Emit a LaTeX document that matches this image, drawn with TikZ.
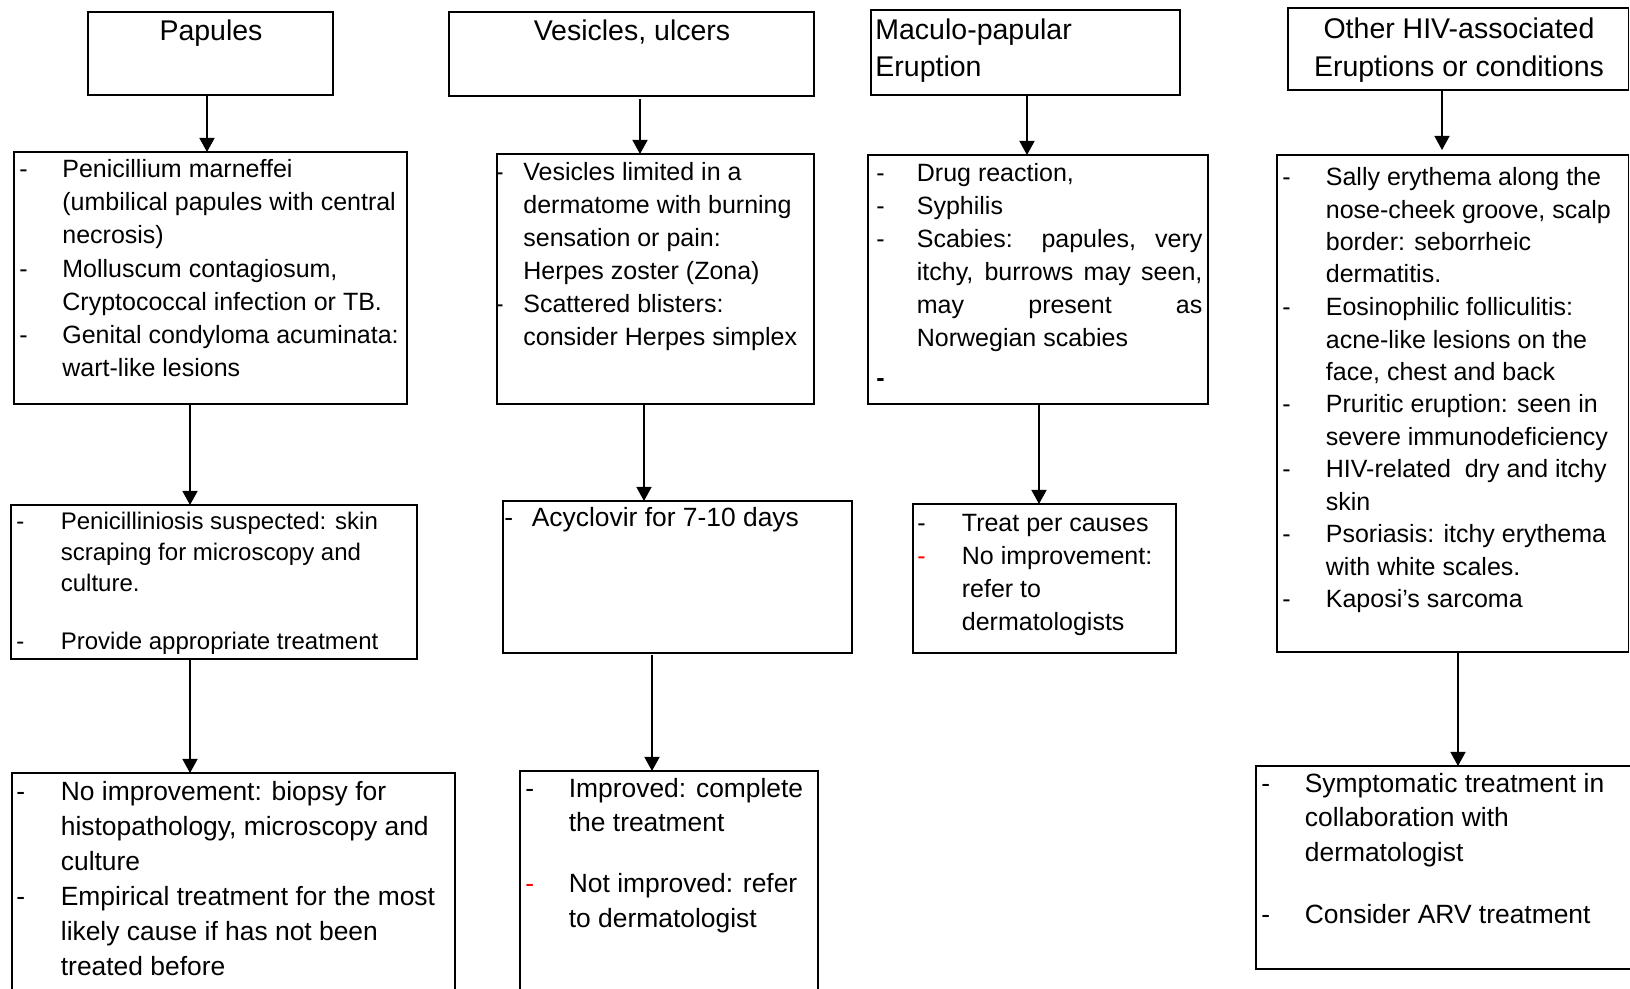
\documentclass[tikz,border=0pt]{standalone}
\usepackage{fontspec}
\setmainfont{Liberation Sans}
\usetikzlibrary{arrows.meta,fit}

% hanging indent used by the dash lists
\newlength\itemind
\newcommand{\dl}[1]{\makebox[\itemind][l]{-}#1}
\newcommand{\dlred}[1]{\makebox[\itemind][l]{\textcolor{red}{-}}#1}
\newcommand{\dlbold}{\makebox[\itemind][l]{\bfseries -}}
\newcommand{\cl}[1]{\hspace*{\itemind}#1}

\begin{document}
\begin{tikzpicture}[x=0.5pt,y=-0.5pt,
  box/.style={draw, line width=0.8pt, inner sep=0pt, outer sep=0pt},
  arr/.style={line width=0.7pt, -{Triangle[width=7.5pt,length=7pt]}},
  head/.style={inner sep=0pt, font=\fontsize{14.25pt}{18.5pt}\selectfont},
  % multi-line lists are placed by the baseline of their last line
  lst/.style={inner sep=0pt, anchor=base west, align=left},
  hangind/.code={\global\itemind=#1\relax},
  body/.style={font=\fontsize{12.5pt}{16.5pt}\selectfont},
  big/.style={font=\fontsize{13.2pt}{17.25pt}\selectfont}
]
\useasboundingbox (0,0) rectangle (1630,989);

% ---------- header boxes ----------
\node[box, fit={(88,12) (333,95)}] (h1) {};
\node[head, anchor=base] (h1t) at (211,41) {Papules};

\node[box, fit={(449,12) (814,96)}] (h2) {};
\node[head, anchor=base] (h2t) at (632,41) {Vesicles, ulcers};

\node[box, fit={(871,10) (1180,95)}] (h3) {};
\node[head, anchor=base west, align=left] (h3t) at (875,77) {Maculo-papular\\Eruption};

\node[box, fit={(1288,8) (1628.5,90)}] (h4) {};
\node[head, anchor=base, align=center, font=\fontsize{14.25pt}{19pt}\selectfont] (h4t) at (1459,77) {Other HIV-associated\\Eruptions or conditions};

% ---------- second row ----------
\node[box, fit={(14,152) (407,404)}] (a1) {};
\node[lst, font=\fontsize{12.5pt}{16.65pt}\selectfont, hangind=21.5pt] (a1t) at (19,377)
 {\dl{Penicillium marneffei}\\
  \cl{(umbilical papules with central}\\
  \cl{necrosis)}\\
  \dl{Molluscum contagiosum,}\\
  \cl{Cryptococcal infection or TB.}\\
  \dl{Genital condyloma acuminata:}\\
  \cl{wart-like lesions}};

\node[box, fit={(497,154) (814,404)}] (a2) {};
\node[lst, body, hangind=14pt] (a2t) at (495,346)
 {\dl{Vesicles limited in a}\\
  \cl{dermatome with burning}\\
  \cl{sensation or pain:}\\
  \cl{Herpes zoster (Zona)}\\
  \dl{Scattered blisters:}\\
  \cl{consider Herpes simplex}};

\node[box, fit={(868,155) (1208,404)}] (a3) {};
\node[lst, body, hangind=20.25pt] (a3t) at (876,387)
 {\dl{Drug reaction,}\\
  \dl{Syphilis}\\
  \dl{\makebox[142.75pt][s]{Scabies: papules, very}}\\
  \cl{\makebox[142.75pt][s]{itchy, burrows may seen,}}\\
  \cl{\makebox[142.75pt][s]{may present as}}\\
  \cl{Norwegian scabies}\\[3.5pt]
  \dlbold};

\node[box, fit={(1277,155) (1628.5,652)}] (a4) {};
\node[lst, font=\fontsize{12.5pt}{16.25pt}\selectfont, hangind=21.75pt] (a4t) at (1282,608)
 {\dl{Sally erythema along the}\\
  \cl{nose-cheek groove, scalp}\\
  \cl{border: seborrheic}\\
  \cl{dermatitis.}\\
  \dl{Eosinophilic folliculitis:}\\
  \cl{acne-like lesions on the}\\
  \cl{face, chest and back}\\
  \dl{Pruritic eruption: seen in}\\
  \cl{severe immunodeficiency}\\
  \dl{HIV-related\ \ dry and itchy}\\
  \cl{skin}\\
  \dl{Psoriasis: itchy erythema}\\
  \cl{with white scales.}\\
  \dl{Kaposi’s sarcoma}};

% ---------- third row ----------
\node[box, fit={(11,505) (417,659)}] (b1) {};
\node[lst, font=\fontsize{12pt}{15.5pt}\selectfont, hangind=22.25pt] (b1t) at (16,650)
 {\dl{Penicilliniosis suspected: skin}\\
  \cl{scraping for microscopy and}\\
  \cl{culture.}\\[13.5pt]
  \dl{Provide appropriate treatment}};

\node[box, fit={(503,501) (852,653)}] (b2) {};
\node[lst, big, hangind=13.75pt] (b2t) at (504,527)
 {\dl{Acyclovir for 7-10 days}};

\node[box, fit={(913,504) (1176,653)}] (b3) {};
\node[lst, body, hangind=22.25pt] (b3t) at (917,631)
 {\dl{Treat per causes}\\
  \dlred{No improvement:}\\
  \cl{refer to}\\
  \cl{dermatologists}};

% ---------- bottom row ----------
\node[box, fit={(12,773) (455,1000)}] (c1) {};
\node[lst, font=\fontsize{13.2pt}{17.45pt}\selectfont, hangind=22.25pt] (c1t) at (16,975)
 {\dl{No improvement: biopsy for}\\
  \cl{histopathology, microscopy and}\\
  \cl{culture}\\
  \dl{Empirical treatment for the most}\\
  \cl{likely cause if has not been}\\
  \cl{treated before}};

\node[box, fit={(520,771) (818,1000)}] (c2) {};
\node[lst, font=\fontsize{13.2pt}{17.5pt}\selectfont, hangind=21.75pt] (c2t) at (525,928)
 {\dl{Improved: complete}\\
  \cl{the treatment}\\[13pt]
  \dlred{Not improved: refer}\\
  \cl{to dermatologist}};

\node[box, fit={(1256,766) (1640,969)}] (c4) {};
\node[lst, big, hangind=21.75pt] (c4t) at (1261,923)
 {\dl{Symptomatic treatment in}\\
  \cl{collaboration with}\\
  \cl{dermatologist}\\[13.75pt]
  \dl{Consider ARV treatment}};

% ---------- connectors ----------
\draw[arr] (h1.south -| 207,0) -- (a1.north -| 207,0);
\draw[arr] (h2.south -| 640,0) ++(0,3) -- (a2.north -| 640,0);
\draw[arr] (h3.south -| 1027,0) -- (a3.north -| 1027,0);
\draw[arr] (h4.south -| 1442,0) -- (1442,150);
\draw[arr] (a1.south -| 190,0) -- (b1.north -| 190,0);
\draw[arr] (a2.south -| 644,0) -- (b2.north -| 644,0);
\draw[arr] (a3.south -| 1039,0) -- (b3.north -| 1039,0);
\draw[arr] (a4.south -| 1458,0) -- (c4.north -| 1458,0);
\draw[arr] (b1.south -| 190,0) -- (c1.north -| 190,0);
\draw[arr] (b2.south -| 652,0) ++(0,2) -- (c2.north -| 652,0);
\end{tikzpicture}
\end{document}
